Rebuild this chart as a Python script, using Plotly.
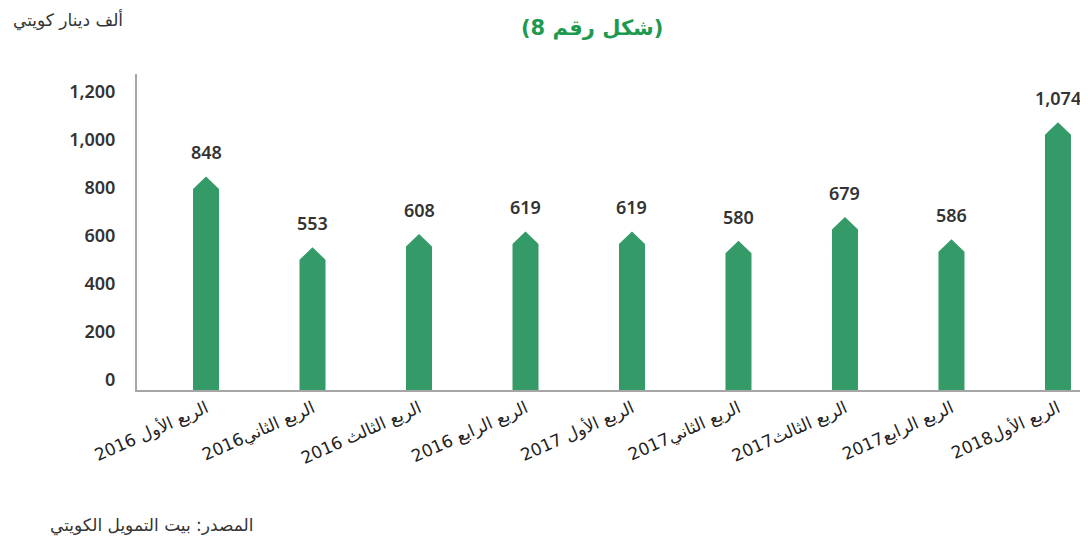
import plotly.graph_objects as go

categories = ["الربع الأول 2016", "الربع الثاني2016", "الربع الثالث 2016", "الربع الرابع 2016",
              "الربع الأول 2017", "الربع الثاني2017", "الربع الثالث2017", "الربع الرابع2017",
              "الربع الأول2018"]
values = [848, 553, 608, 619, 619, 580, 679, 586, 1074]
y_ticks = [0, 200, 400, 600, 800, 1000, 1200]

title_text = "(شكل رقم 8)"
unit_text = "ألف دينار كويتي"
source_text = "المصدر: بيت التمويل الكويتي"

GREEN = "#349a67"
TEXT = "#333333"
AXIS = "#a6a6a6"

Y_MIN, Y_MAX = -41.7, 1275
BAR_W = 0.244
HEAD = 52

idx = list(range(len(categories)))

xs, ys = [], []
for i, v in zip(idx, values):
    l, r = i - BAR_W / 2, i + BAR_W / 2
    xs += [l, l, i, r, r, l, None]
    ys += [Y_MIN, v - HEAD, v, v - HEAD, Y_MIN, Y_MIN, None]

fig = go.Figure()
fig.add_trace(go.Scatter(x=xs, y=ys, mode="lines", fill="toself", fillcolor=GREEN,
                         line=dict(width=0, color=GREEN), hoverinfo="skip", showlegend=False))

annotations = []
for i, v in zip(idx, values):
    annotations.append(dict(x=i, y=v, xref="x", yref="y", text=f"{v:,}", showarrow=False,
                            yanchor="bottom", yshift=10,
                            font=dict(family="Noto Sans", size=18, color=TEXT, weight=600)))

# page offset: the browser body adds 8px; plot area spans x 137..1088, y 74..390 on the page
annotations.append(dict(x=(592 - 137) / 951, y=(390 - 28) / 316, xref="paper", yref="paper",
                        text=title_text, showarrow=False, xanchor="center", yanchor="middle",
                        font=dict(family="DejaVu Sans", size=21, color="#1e9a50", weight="bold")))
annotations.append(dict(x=(125 - 137) / 951, y=(390 - 20) / 316, xref="paper", yref="paper",
                        text=unit_text, showarrow=False, xanchor="right", yanchor="middle",
                        font=dict(family="DejaVu Sans", size=17, color=TEXT)))
annotations.append(dict(x=(255 - 137) / 951, y=(390 - 525) / 316, xref="paper", yref="paper",
                        text=source_text, showarrow=False, xanchor="right", yanchor="middle",
                        font=dict(family="DejaVu Sans", size=17, color=TEXT)))

fig.update_layout(
    width=1080, height=536,
    margin=dict(l=129, r=0, t=66, b=154),
    paper_bgcolor="white", plot_bgcolor="white",
    showlegend=False,
    annotations=annotations,
    xaxis=dict(range=[-0.648, 8.282], tickmode="array", tickvals=idx, ticktext=categories,
               tickangle=-24, showgrid=False, zeroline=False, showline=True,
               linecolor=AXIS, linewidth=2, ticks="", automargin=False,
               tickfont=dict(family="DejaVu Sans", size=17, color="#222222")),
    yaxis=dict(range=[Y_MIN, Y_MAX], tickmode="array", tickvals=y_ticks,
               ticktext=[f"{t:,}" for t in y_ticks], showgrid=False, zeroline=False,
               showline=True, linecolor=AXIS, linewidth=2, ticks="", automargin=False,
               ticklabelstandoff=16,
               tickfont=dict(family="Noto Sans", size=18, color=TEXT, weight=600)),
)

fig.write_html("out.html")
